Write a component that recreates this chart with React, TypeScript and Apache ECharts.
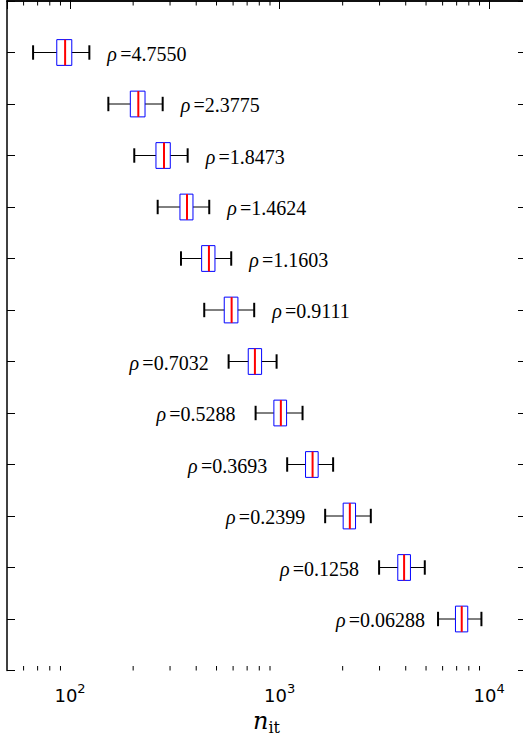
import React, { useEffect, useRef } from 'react';
import * as echarts from 'echarts';

// ---- data ----
const rhoLabels = ['4.7550', '2.3775', '1.8473', '1.4624', '1.1603', '0.9111', '0.7032', '0.5288', '0.3693', '0.2399', '0.1258', '0.06288'];
const whiskerLow = [66.6, 152.3, 202.5, 261.9, 338.3, 436.9, 571.2, 768.4, 1087, 1650, 2985, 5705];
const quartile1 = [86.4, 193.9, 257, 334.6, 424.6, 544.3, 708.6, 939.3, 1330, 2011, 3666, 6909];
const medians = [94.7, 211.7, 280.7, 361.4, 460, 590.3, 762.5, 1014, 1437, 2164, 3929, 7402];
const quartile3 = [101.9, 227.9, 300.8, 386, 491.5, 632.6, 820.6, 1080, 1528, 2304, 4213, 7907];
const whiskerHigh = [123.6, 276.7, 364.1, 461.6, 587.7, 756.5, 967.6, 1287, 1801, 2725, 4932, 9190];
const labelSide = ['right', 'right', 'right', 'right', 'right', 'right', 'left', 'left', 'left', 'left', 'left', 'left'];
const minorTicks = [60, 70, 80, 90, 200, 300, 400, 500, 600, 700, 800, 900, 2000, 3000, 4000, 5000, 6000, 7000, 8000, 9000];
const xMin = 50;
const xMax = 15000;
const yMin = 0;
const yMax = 13;

export default function App() {
  const ref = useRef<HTMLDivElement>(null);

  useEffect(() => {
    if (!ref.current) return;
    const chart = echarts.init(ref.current, undefined, { renderer: 'svg' });

    const boxData = rhoLabels.map((_, i) => [i + 1, whiskerLow[i], quartile1[i], medians[i], quartile3[i], whiskerHigh[i]]);

    const tickFormatter = (v: number) => {
      const e = Math.log10(v);
      const r = Math.round(e);
      if (Math.abs(e - r) < 1e-6) return `{b|10}{s|${r}}`;
      return '';
    };

    const rhoRich = {
      r: { fontFamily: 'Liberation Serif', fontStyle: 'italic', fontSize: 20, color: '#000', lineHeight: 22 },
      g: { fontFamily: 'Liberation Serif', fontSize: 13, color: '#000', lineHeight: 22 },
      v: { fontFamily: 'Liberation Serif', fontSize: 20, color: '#000', lineHeight: 22 },
    };

    const axisCommon = {
      axisLine: { show: true, lineStyle: { color: '#000', width: 1.5 } },
      axisTick: { show: true, inside: true, length: 8, lineStyle: { color: '#000', width: 1 } },
      splitLine: { show: false },
    };

    const option: any = {
      animation: false,
      backgroundColor: '#fff',
      grid: { left: 7, top: 1, width: 519, height: 669.5, containLabel: false, outerBoundsMode: 'none' },
      xAxis: [
        {
          type: 'log',
          logBase: 10,
          min: xMin,
          max: xMax,
          position: 'bottom',
          name: '{n|n}{s|it}',
          nameLocation: 'middle',
          nameGap: 33,
          nameTextStyle: {
            rich: {
              n: { fontFamily: 'DejaVu Serif', fontStyle: 'italic', fontSize: 24, lineHeight: 28, color: '#000' },
              s: { fontFamily: 'DejaVu Serif', fontSize: 16, lineHeight: 16, verticalAlign: 'bottom', color: '#000' },
            },
          },
          ...axisCommon,
          axisLabel: {
            show: true,
            margin: 11,
            formatter: tickFormatter,
            rich: {
              b: { fontFamily: 'DejaVu Sans', fontSize: 18, lineHeight: 28, color: '#000' },
              s: { fontFamily: 'DejaVu Sans', fontSize: 13, lineHeight: 13, verticalAlign: 'top', color: '#000' },
            },
          },
        },
        {
          type: 'log',
          logBase: 10,
          min: xMin,
          max: xMax,
          position: 'top',
          ...axisCommon,
          axisLabel: { show: false },
        },
      ],
      yAxis: [
        {
          type: 'value',
          min: yMin,
          max: yMax,
          interval: 1,
          inverse: true,
          position: 'left',
          ...axisCommon,
          axisLabel: { show: false },
        },
        {
          type: 'value',
          min: yMin,
          max: yMax,
          interval: 1,
          inverse: true,
          position: 'right',
          ...axisCommon,
          axisLabel: { show: false },
        },
      ],
      series: [
        {
          type: 'custom',
          name: 'minor',
          xAxisIndex: 0,
          yAxisIndex: 0,
          data: minorTicks.map((v) => [v, 1]),
          encode: { x: 0, y: 1 },
          renderItem: (params: any, api: any) => {
            const x = api.coord([api.value(0), 1])[0];
            const cs = params.coordSys;
            return {
              type: 'group',
              children: [
                { type: 'line', shape: { x1: x, y1: cs.y, x2: x, y2: cs.y + 4.5 }, style: { stroke: '#000', lineWidth: 1 } },
                { type: 'line', shape: { x1: x, y1: cs.y + cs.height, x2: x, y2: cs.y + cs.height - 4.5 }, style: { stroke: '#000', lineWidth: 1 } },
              ],
            };
          },
        },
        {
          type: 'custom',
          name: 'boxes',
          xAxisIndex: 0,
          yAxisIndex: 0,
          data: boxData,
          encode: { x: [1, 2, 3, 4, 5], y: 0 },
          renderItem: (params: any, api: any) => {
            const row = api.value(0);
            const lo = api.value(1);
            const a = api.value(2);
            const m = api.value(3);
            const b = api.value(4);
            const hi = api.value(5);
            const idx = params.dataIndex;
            const yc = api.coord([m, row])[1];
            const y1 = api.coord([m, row - 0.25])[1];
            const y2 = api.coord([m, row + 0.25])[1];
            const yTop = Math.min(y1, y2);
            const yBot = Math.max(y1, y2);
            const c1 = api.coord([m, row - 0.14])[1];
            const c2 = api.coord([m, row + 0.14])[1];
            const cTop = Math.min(c1, c2);
            const cBot = Math.max(c1, c2);
            const xLo = api.coord([lo, row])[0];
            const xA = api.coord([a, row])[0];
            const xM = api.coord([m, row])[0];
            const xB = api.coord([b, row])[0];
            const xHi = api.coord([hi, row])[0];
            const right = labelSide[idx] === 'right';
            const gap = right ? 18 : idx === rhoLabels.length - 1 ? 13 : 20;
            return {
              type: 'group',
              children: [
                { type: 'line', shape: { x1: xLo, y1: yc, x2: xA, y2: yc }, style: { stroke: '#000', lineWidth: 1 } },
                { type: 'line', shape: { x1: xB, y1: yc, x2: xHi, y2: yc }, style: { stroke: '#000', lineWidth: 1 } },
                { type: 'line', shape: { x1: xLo, y1: cTop, x2: xLo, y2: cBot }, style: { stroke: '#000', lineWidth: 2 } },
                { type: 'line', shape: { x1: xHi, y1: cTop, x2: xHi, y2: cBot }, style: { stroke: '#000', lineWidth: 2 } },
                { type: 'rect', shape: { x: xA, y: yTop, width: xB - xA, height: yBot - yTop }, style: { stroke: '#0000ff', fill: 'none', lineWidth: 1 } },
                { type: 'line', shape: { x1: xM, y1: yTop, x2: xM, y2: yBot }, style: { stroke: '#ff0000', lineWidth: 2 } },
                {
                  type: 'text',
                  x: right ? xHi + gap : xLo - gap,
                  y: yc + 1,
                  style: {
                    text: `{r|ρ}{g| }{v|=${rhoLabels[idx]}}`,
                    rich: rhoRich,
                    align: right ? 'left' : 'right',
                    verticalAlign: 'middle',
                  },
                },
              ],
            };
          },
        },
      ],
    };

    chart.setOption(option);
    return () => {
      chart.dispose();
    };
  }, []);

  return <div ref={ref} style={{ position: 'absolute', left: 0, top: 0, width: 523, height: 738, background: '#fff' }} />;
}
